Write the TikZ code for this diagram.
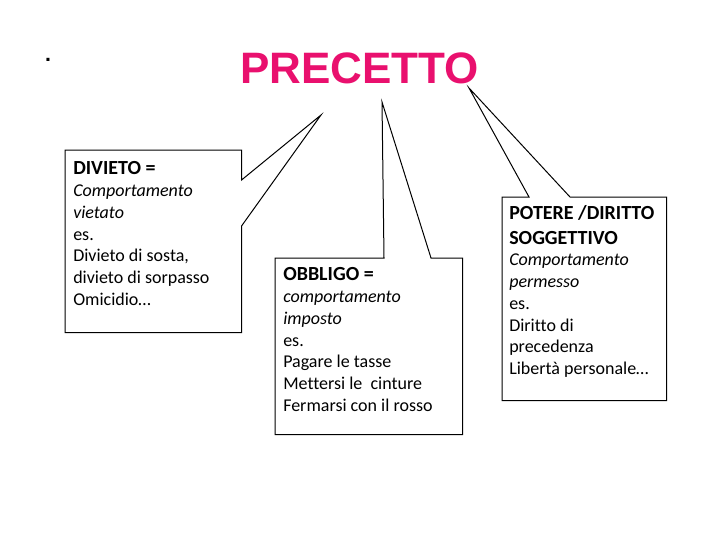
\documentclass[tikz,border=0pt]{standalone}
\usepackage{fontspec}
\setmainfont{Carlito}[Ligatures=NoCommon]
\newfontfamily\titlefont{Liberation Sans}
\usetikzlibrary{calc}
\definecolor{precettoRed}{RGB}{233,16,110}
\newcommand{\testo}{\fontsize{13.5pt}{16.3pt}\selectfont}
\newcommand{\titolo}[1]{{\fontsize{15pt}{16.3pt}\selectfont\bfseries #1}}
\tikzset{
  boxframe/.style={draw=none, inner sep=0pt, anchor=north west},
  boxtext/.style={anchor=north west, inner sep=0pt, align=left, font=\testo},
  tail/.style={draw=black, line width=0.75pt, line join=miter}
}

\begin{document}
\begin{tikzpicture}[x=0.75pt, y=-0.75pt]
	%	\draw[thick] (0,0) rectangle (720,540);
	\useasboundingbox (0,0) rectangle (720,540);

	\node[anchor=base, inner sep=0pt] (punto) at (48,61) {\titlefont\bfseries\fontsize{16pt}{20pt}\selectfont .};
	\node[anchor=base, inner sep=0pt, text=precettoRed] (precetto) at (359.5,83) {\titlefont\bfseries\fontsize{33pt}{36pt}\selectfont PRECETTO};

	\coordinate (tipDiv) at (321,115);
	\coordinate (tipObb) at (382,102);
	\coordinate (tipPot) at (469,88);

	% divieto
	\node[boxframe, minimum width=132pt, minimum height=136.5pt] (divieto) at (65,150) {};
	\draw[tail] (divieto.north west) -- (divieto.north east) -- ($(divieto.north east)+(0,30)$) -- (tipDiv)
		-- ($(divieto.north east)+(0,76)$) -- (divieto.south east) -- (divieto.south west) -- cycle;
	\node[boxtext] (divTxt) at (73,161.5) {\titolo{DIVIETO =}\\ \textit{Comportamento}\\ \textit{vietato}\\ es.\\ Divieto di sosta,\\ divieto di sorpasso\\ Omicidio…};

	% obbligo
	\node[boxframe, minimum width=140.25pt, minimum height=132pt] (obbligo) at (275,258) {};
	\draw[tail] (obbligo.north west) -- ($(obbligo.north west)+(109,0)$) -- (tipObb) -- ($(obbligo.north west)+(156,0)$)
		-- (obbligo.north east) -- (obbligo.south east) -- (obbligo.south west) -- cycle;
	\node[boxtext] (obbTxt) at (283,267.5) {\titolo{OBBLIGO =}\\ \textit{comportamento}\\ \textit{imposto}\\ es.\\ Pagare le tasse\\ Mettersi le\ \ cinture\\ Fermarsi con il rosso};

	% potere / diritto soggettivo
	\node[boxframe, minimum width=123pt, minimum height=152.25pt] (potere) at (502,197) {};
	\draw[tail] (potere.north west) -- ($(potere.north west)+(27,0)$) -- (tipPot) -- ($(potere.north west)+(68,0)$)
		-- (potere.north east) -- (potere.south east) -- (potere.south west) -- cycle;
	\node[boxtext] (potTxt) at (509,205.5) {\titolo{POTERE /DIRITTO}\\[2pt] \titolo{SOGGETTIVO}\\ \textit{Comportamento}\\ \textit{permesso}\\ es.\\ Diritto di\\ precedenza\\ Libertà personale…};
\end{tikzpicture}
\end{document}
